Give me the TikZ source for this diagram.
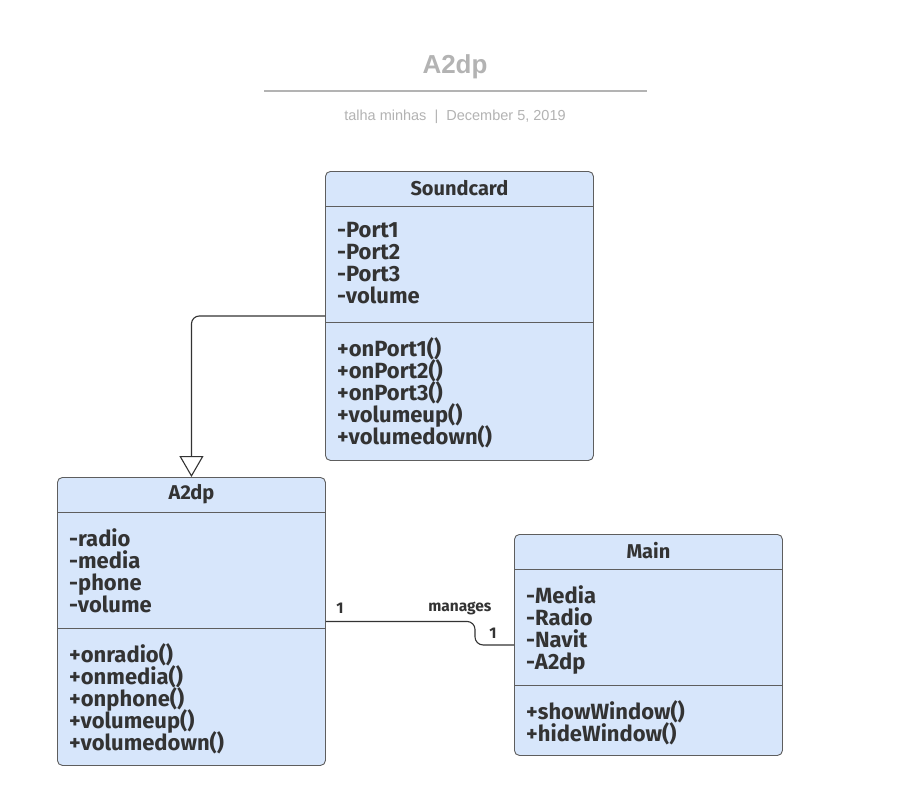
\documentclass[tikz,border=0pt]{standalone}
\usepackage{fontspec}
\setmainfont{Fira Sans}
\newfontfamily\titlefont{Liberation Sans}
\usetikzlibrary{positioning,arrows.meta}
\definecolor{classfill}{HTML}{D7E6FB}
\definecolor{classline}{HTML}{5E5E5E}
\definecolor{classtext}{HTML}{333333}
\definecolor{headgray}{HTML}{B3B3B3}
\def\umlclass(#1)(#2)(#3)#4#5#6% (name) (top left corner) (height) {title} {attributes} {operations}
{ \node[classbox,minimum height=#3] (#1) at (#2) {};
  \draw[sep] ([yshift=-35pt]#1.north west) -- ([yshift=-35pt]#1.north east);
  \draw[sep] ([yshift=-151pt]#1.north west) -- ([yshift=-151pt]#1.north east);
  \node[header] (#1-title) at ([yshift=-17pt]#1.north) {#4};
  \node[members] (#1-attr) at ([xshift=12pt,yshift=-51pt]#1.north west) {#5};
  \node[members] (#1-ops) at ([xshift=12pt,yshift=-166pt]#1.north west) {#6};}

\begin{document}
\begin{tikzpicture}[x=1pt,y=-1pt,
  classbox/.style={draw=classline,fill=classfill,rounded corners=5pt,line width=0.9pt,minimum width=268pt,anchor=north west,inner sep=0},
  sep/.style={draw=classline,line width=0.9pt},
  header/.style={font={\fontsize{20}{24}\selectfont\bfseries},text=classtext,inner sep=0},
  members/.style={font={\fontsize{22}{22}\selectfont\bfseries\lineskiplimit=-10pt},text=classtext,align=left,anchor=north west,inner sep=0,execute at begin node=\strut},
  conn/.style={draw=classtext,line width=1.1pt,rounded corners=8pt},
  assoclabel/.style={font={\fontsize{15.5}{18}\selectfont\bfseries},text=classtext,inner sep=0}]
\useasboundingbox[fill=white] (0,0) rectangle (907,803);

% heading
\node[font={\titlefont\fontsize{26}{30}\selectfont\bfseries},text=headgray] (title) at (455,67) {A2dp};
\draw[headgray,line width=1.6pt] (264,91) -- (647,91);
\node[font={\titlefont\fontsize{14.5}{17}\selectfont},text=headgray] (byline) at (455,117) {talha minhas \ | \ December 5, 2019};

% classes
\umlclass(sound)(325,171)(289pt){Soundcard}{-Port1\\-Port2\\-Port3\\-volume}{+onPort1()\\+onPort2()\\+onPort3()\\+volumeup()\\+volumedown()}
\umlclass(a2dp)(57,477)(288pt){A2dp}{-radio\\-media\\-phone\\-volume}{+onradio()\\+onmedia()\\+onphone()\\+volumeup()\\+volumedown()}
\umlclass(main)(514,534)(221pt){Main}{-Media\\-Radio\\-Navit\\-A2dp}{+showWindow()\\+hideWindow()}

% generalization
\draw[conn,-{Triangle[open,length=21pt,width=24pt,fill=white]}] (sound.west) -| (a2dp.north);

% association
\draw[conn] (a2dp.east) -| ([xshift=-39pt]main.west) -- (main.west);
\node[assoclabel] (mult-a2dp) at ([xshift=14pt,yshift=13pt]a2dp.east) {1};
\node[assoclabel] (manages) at ([xshift=134pt,yshift=13pt]a2dp.east) {manages};
\node[assoclabel] (mult-main) at ([xshift=-21pt,yshift=12pt]main.west) {1};

\end{tikzpicture}
\end{document}
